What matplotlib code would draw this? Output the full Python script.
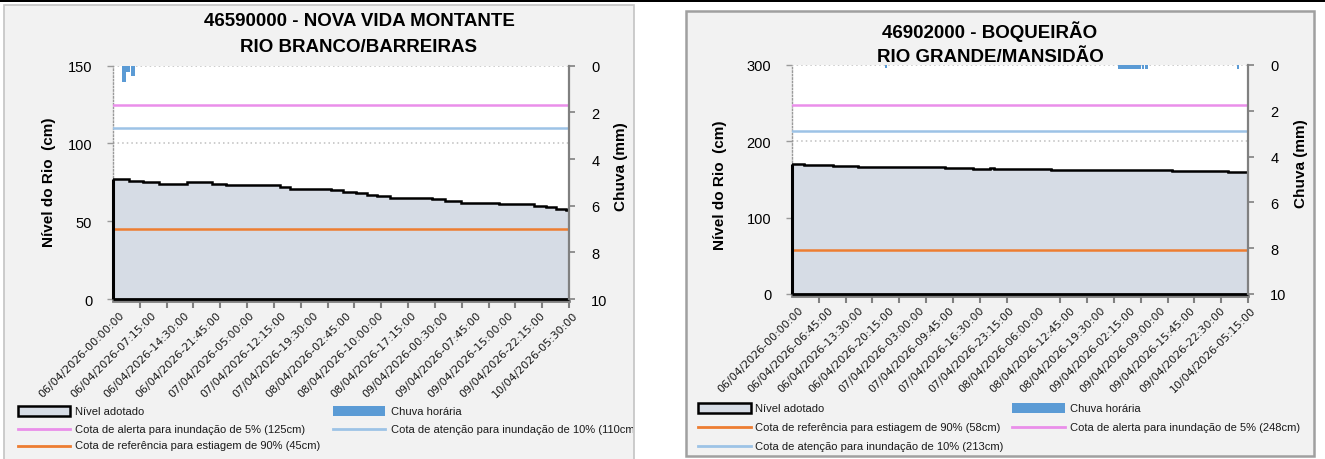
import matplotlib
matplotlib.use("Agg")
import matplotlib.pyplot as plt
import numpy as np
import pandas as pd
from matplotlib.patches import Rectangle
from matplotlib.lines import Line2D
from matplotlib.transforms import ScaledTranslation, Bbox

plt.rcParams['font.family'] = ['Liberation Sans', 'DejaVu Sans']

# ---------------- DATA ----------------
# Left station: 46590000 - NOVA VIDA MONTANTE
left_title = ["46590000 - NOVA VIDA MONTANTE", "RIO BRANCO/BARREIRAS"]
left_level_times = ["06/04/2026-00:00", "06/04/2026-03:30", "06/04/2026-06:45", "06/04/2026-10:15",
                    "06/04/2026-16:30", "06/04/2026-22:15", "07/04/2026-01:15", "07/04/2026-13:15",
                    "07/04/2026-15:30", "08/04/2026-00:45", "08/04/2026-03:30", "08/04/2026-06:15",
                    "08/04/2026-08:45", "08/04/2026-11:00", "08/04/2026-14:00", "08/04/2026-23:15",
                    "09/04/2026-02:15", "09/04/2026-05:45", "09/04/2026-14:15", "09/04/2026-22:15",
                    "10/04/2026-00:45", "10/04/2026-03:00", "10/04/2026-05:15", "10/04/2026-06:00"]
left_level_values = [77, 76, 75, 74, 75, 74, 73, 72, 71, 70, 69, 68, 67, 66, 65, 64, 63, 62, 61,
                     60, 59, 58, 57, 57]
left_rain_times = ["06/04/2026-02:00", "06/04/2026-03:00", "06/04/2026-04:00"]
left_rain_mm = [0.68, 0.26, 0.43]
left_alert = 125
left_attention = 110
left_drought = 45
left_xlabels = ["06/04/2026-00:00:00", "06/04/2026-07:15:00", "06/04/2026-14:30:00",
                "06/04/2026-21:45:00", "07/04/2026-05:00:00", "07/04/2026-12:15:00",
                "07/04/2026-19:30:00", "08/04/2026-02:45:00", "08/04/2026-10:00:00",
                "08/04/2026-17:15:00", "09/04/2026-00:30:00", "09/04/2026-07:45:00",
                "09/04/2026-15:00:00", "09/04/2026-22:15:00", "10/04/2026-05:30:00"]
left_yticks = [0, 50, 100, 150]
left_legend = ["Nível adotado", "Chuva horária",
               "Cota de alerta para inundação de 5% (125cm)",
               "Cota de atenção para inundação de 10% (110cm)",
               "Cota de referência para estiagem de 90% (45cm)"]

# Right station: 46902000 - BOQUEIRÃO
right_title = ["46902000 - BOQUEIRÃO", "RIO GRANDE/MANSIDÃO"]
right_level_times = ["06/04/2026-00:00", "06/04/2026-02:45", "06/04/2026-09:15", "06/04/2026-14:45",
                     "07/04/2026-00:30", "07/04/2026-10:15", "07/04/2026-16:30", "07/04/2026-20:15",
                     "07/04/2026-21:15", "08/04/2026-10:00", "09/04/2026-05:45", "09/04/2026-13:00",
                     "10/04/2026-01:30", "10/04/2026-06:00"]
right_level_values = [170, 169, 168, 167, 166, 165, 164, 165, 164, 163, 162, 161, 160, 160]
right_rain_times = ["06/04/2026-20:45",
                    "09/04/2026-01:00", "09/04/2026-01:30", "09/04/2026-02:00", "09/04/2026-02:30",
                    "09/04/2026-03:00", "09/04/2026-03:30", "09/04/2026-04:00", "09/04/2026-04:30",
                    "09/04/2026-05:00", "09/04/2026-05:30", "09/04/2026-06:15", "09/04/2026-07:00",
                    "10/04/2026-03:30"]
right_rain_mm = [0.15, 0.18, 0.18, 0.18, 0.18, 0.18, 0.18, 0.18, 0.18, 0.18, 0.18, 0.18, 0.18, 0.18]
right_alert = 248
right_attention = 213
right_drought = 58
right_xlabels = ["06/04/2026-00:00:00", "06/04/2026-06:45:00", "06/04/2026-13:30:00",
                 "06/04/2026-20:15:00", "07/04/2026-03:00:00", "07/04/2026-09:45:00",
                 "07/04/2026-16:30:00", "07/04/2026-23:15:00", "08/04/2026-06:00:00",
                 "08/04/2026-12:45:00", "08/04/2026-19:30:00", "09/04/2026-02:15:00",
                 "09/04/2026-09:00:00", "09/04/2026-15:45:00", "09/04/2026-22:30:00",
                 "10/04/2026-05:15:00"]
right_yticks = [0, 100, 200, 300]
right_legend = ["Nível adotado", "Chuva horária",
                "Cota de referência para estiagem de 90% (58cm)",
                "Cota de alerta para inundação de 5% (248cm)",
                "Cota de atenção para inundação de 10% (213cm)"]

rain_ticks = [0, 2, 4, 6, 8, 10]
period_start = "06/04/2026-00:00"
period_end = "10/04/2026-06:00"

# ---------------- STYLE ----------------
C_FILL = '#D6DCE5'
C_RAIN = '#5B9BD5'
C_ALERT = '#EA8FEA'
C_ATT = '#9DC3E6'
C_DRY = '#ED7D31'
C_AX = '#808080'
C_GRID = '#BFBFBF'

W, H = 1325, 460
fig = plt.figure(figsize=(W / 100, H / 100), dpi=100)
fig.patch.set_facecolor('white')

T0 = pd.to_datetime(period_start, format="%d/%m/%Y-%H:%M")


def to_idx(times, fmt="%d/%m/%Y-%H:%M"):
    t = pd.to_datetime(pd.Series(times), format=fmt)
    return ((t - T0) / pd.Timedelta(minutes=15)).to_numpy()


X_END = to_idx([period_end])[0]


def fx(x):
    return x / W


def fy(y):
    return 1 - y / H


def rect_px(x0, y0, x1, y1, **kw):
    r = Rectangle((fx(x0), fy(y1)), (x1 - x0) / W, (y1 - y0) / H,
                  transform=fig.transFigure, **kw)
    fig.add_artist(r)
    return r


# top black band
rect_px(0, 0, W, 3, facecolor='black', edgecolor='none', zorder=-1)
# panel backgrounds
rect_px(4, 6, 634, 475, facecolor='#F2F2F2', edgecolor='#C4C4C4', lw=1.2, zorder=-1)
rect_px(686, 12, 1314, 457, facecolor='#F2F2F2', edgecolor='#A0A0A0', lw=1.8, zorder=-1)


def draw_panel(box, level_t, level_v, rain_t, rain_v, alert, attention, drought,
               xlabels, yticks, ymax, title, title_x, title_y, ylab_x, ylab_y,
               chuva_x, chuva_y, leg_labels, leg_kinds, leg, clip_x, bar_w, xlab_dx,
               xlab_size):
    x0, y0, x1, y1 = box
    ax = fig.add_axes([fx(x0), fy(y1), (x1 - x0) / W, (y1 - y0) / H])
    ax.set_facecolor('white')
    xs = to_idx(level_t)
    ys = np.array(level_v, dtype=float)
    ax.fill_between(xs, ys, 0, step='post', facecolor=C_FILL, edgecolor='none', zorder=2)
    ax.step(xs, ys, where='post', color='black', lw=1.8, zorder=4, solid_joinstyle='miter')
    ax.vlines(xs[0], 0, ys[0], color='black', lw=2.2, zorder=4, clip_on=False)
    ax.hlines(0, xs[0], xs[-1], color='black', lw=2.0, zorder=4, clip_on=False)
    ax.axhline(alert, color=C_ALERT, lw=1.8, zorder=3)
    ax.axhline(attention, color=C_ATT, lw=1.8, zorder=3)
    ax.axhline(drought, color=C_DRY, lw=1.8, zorder=3)

    ax.set_xlim(0, X_END)
    ax.set_ylim(0, ymax)
    ax.set_yticks(yticks)
    ax.yaxis.grid(True, linestyle=(0, (1, 2)), color=C_GRID, lw=1.1)
    ax.set_axisbelow(True)
    for s in ['top', 'right']:
        ax.spines[s].set_visible(False)
    ax.spines['left'].set_linestyle((0, (1, 1.5)))
    ax.spines['left'].set_color('#9A9A9A')
    ax.spines['left'].set_linewidth(1.0)
    ax.spines['bottom'].set_color(C_AX)
    ax.spines['bottom'].set_linewidth(2.0)
    ax.spines['bottom'].set_position(('outward', 1.5))
    ax.tick_params(axis='y', direction='out', length=4, width=1, color='#9A9A9A',
                   pad=11, labelsize=10.5, labelcolor='black')

    lab_pos = to_idx(xlabels, fmt="%d/%m/%Y-%H:%M:%S")
    ax.set_xticks(lab_pos)
    ax.set_xticklabels(xlabels, rotation=45, ha='right', va='top',
                       rotation_mode='anchor', fontsize=xlab_size,
                       family=['DejaVu Sans'], color='#1a1a1a')
    ax.set_xticks(np.arange(0, X_END + 1, 24), minor=True)
    ax.tick_params(axis='x', which='major', length=0, pad=6)
    ax.tick_params(axis='x', which='minor', length=5, width=1.5, color=C_AX)
    off = ScaledTranslation(xlab_dx / 100, 0, fig.dpi_scale_trans)
    for lab in ax.get_xticklabels():
        lab.set_transform(lab.get_transform() + off)

    ax2 = ax.twinx()
    ax2.set_ylim(10, 0)
    ax2.set_yticks(rain_ticks)
    rx = to_idx(rain_t)
    ax2.bar(rx, rain_v, width=bar_w, align='edge', color=C_RAIN, zorder=3)
    for s in ['top', 'left', 'bottom']:
        ax2.spines[s].set_visible(False)
    ax2.spines['right'].set_color(C_AX)
    ax2.spines['right'].set_linewidth(1.6)
    ax2.spines['right'].set_zorder(6)
    ax2.tick_params(axis='y', direction='out', length=4, width=1.2, color=C_AX,
                    pad=12, labelsize=10.5)

    # titles and axis labels
    for i, t in enumerate(title):
        fig.text(fx(title_x), fy(title_y[i]), t, ha='center', va='center',
                 fontsize=13.5, fontweight='bold')
    fig.text(fx(ylab_x), fy(ylab_y), "Nível do Rio  (cm)", rotation=90, ha='center',
             va='center', fontsize=11, fontweight='bold')
    fig.text(fx(chuva_x), fy(chuva_y), "Chuva (mm)", rotation=90, ha='center',
             va='center', fontsize=11, fontweight='bold')

    # legend (manual layout)
    (cx1, cx2, tx1, tx2, hw, rows) = leg
    positions = [(cx1, tx1, rows[0]), (cx2, tx2, rows[0]), (cx1, tx1, rows[1]),
                 (cx2, tx2, rows[1]), (cx1, tx1, rows[2])]
    colors = {'alert': C_ALERT, 'att': C_ATT, 'dry': C_DRY}
    for lab, kind, (hx, tx, yc) in zip(leg_labels, leg_kinds, positions):
        if kind == 'area':
            rect_px(hx, yc - 4.6, hx + hw, yc + 4.6, facecolor=C_FILL, edgecolor='black',
                    lw=1.8, zorder=2)
        elif kind == 'bar':
            rect_px(hx, yc - 5, hx + hw, yc + 5, facecolor=C_RAIN, edgecolor='none', zorder=2)
        else:
            fig.add_artist(Line2D([fx(hx), fx(hx + hw)], [fy(yc), fy(yc)],
                                  transform=fig.transFigure, color=colors[kind], lw=2))
        t = fig.text(fx(tx), fy(yc), lab, ha='left', va='center', fontsize=8,
                     color='#1a1a1a')
        t.set_clip_box(Bbox.from_extents(0, 0, clip_x, H))
        t.set_clip_on(True)
    return ax, ax2


draw_panel((113, 66.7, 569, 300), left_level_times, left_level_values, left_rain_times,
           left_rain_mm, left_alert, left_attention, left_drought, left_xlabels, left_yticks,
           150, left_title, 359, [22, 48], 48.5, 182, 621, 167,
           left_legend, ['area', 'bar', 'alert', 'att', 'dry'],
           (17.7, 332.5, 75, 390.6, 52, [412, 430, 446.5]), 633, 3.6, 6, 7.9)

draw_panel((792, 66, 1248, 295), right_level_times, right_level_values, right_rain_times,
           right_rain_mm, right_alert, right_attention, right_drought, right_xlabels,
           right_yticks, 300, right_title, 990, [32, 57], 720, 185, 1301, 164,
           right_legend, ['area', 'bar', 'dry', 'alert', 'att'],
           (698, 1012, 754.6, 1070, 52.5, [409, 428.3, 446.7]), 1313, 2.2, 6, 7.9)

fig.savefig("out.png", dpi=100, facecolor='white')
